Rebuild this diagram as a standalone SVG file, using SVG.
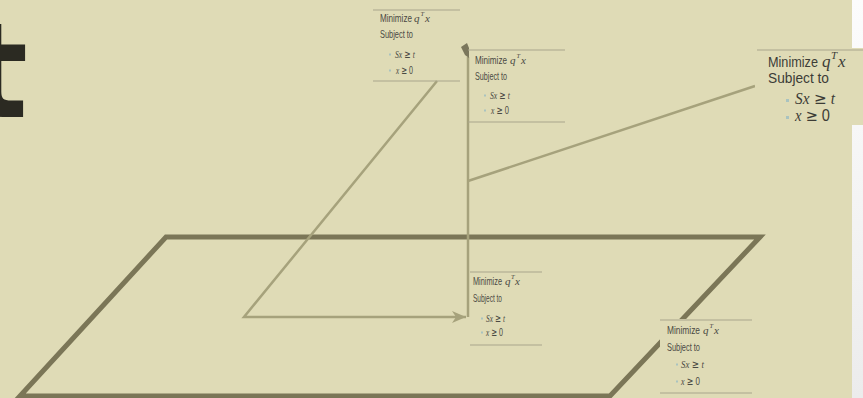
<svg xmlns="http://www.w3.org/2000/svg" width="863" height="398" viewBox="0 0 863 398">
<defs>
<linearGradient id="wp" x1="0" y1="0" x2="0" y2="1"><stop offset="0" stop-color="#fcfcfc"/><stop offset="1" stop-color="#ececec"/></linearGradient>
<marker id="ah" markerUnits="userSpaceOnUse" markerWidth="16" markerHeight="14" refX="14" refY="7" orient="auto"><path d="M0,1 L14,7 L0,13 L4,7 z" fill="#a6a27c"/></marker>
<style>
.s{font-family:"Liberation Sans","DejaVu Sans",sans-serif;fill:#4a4943}
.sb{font-family:"Liberation Sans","DejaVu Sans",sans-serif;fill:#3c3c36}
.i{font-family:"Liberation Serif","DejaVu Serif",serif;font-style:italic}
.u{font-family:"DejaVu Sans",sans-serif;font-style:normal}
.rule{stroke:#aaa68c;stroke-width:1.2}
.bg{fill:#dfdbb6}
.bul{fill:#a9c3c0}
.con{fill:none;stroke:#a6a27c;stroke-width:2.5}
</style>
</defs>
<rect width="863" height="398" fill="#dfdbb6"/>
<rect x="852" y="0" width="11" height="398" fill="url(#wp)"/>
<text x="-35" y="117" font-family="DejaVu Sans" font-size="132" font-weight="bold" fill="#2b2a22">t</text>
<polygon id="plane" points="166,237 760,237 610,396 20,396" fill="none" stroke="#7b7657" stroke-width="5"/>
<g id="connectors">
<path class="con" d="M468,57 L468,317"/>
<path class="con" d="M468,181 L755,86"/>
<path class="con" d="M437,81 L244,317 L466,317" marker-end="url(#ah)"/>
<polygon points="461,47 467,43 469,48 469,58 465,55" fill="#7b775c"/>
</g>
<g id="box1">
<line class="rule" x1="373" y1="10" x2="460" y2="10"/>
<line class="rule" x1="373" y1="81" x2="460" y2="81"/>
<text class="s" x="380" y="22" font-size="11" textLength="32" lengthAdjust="spacingAndGlyphs">Minimize</text>
<text class="s i" x="414" y="22" font-size="11">q</text>
<text class="s i" x="420.5" y="16" font-size="6.5">T</text>
<text class="s i" x="425" y="22" font-size="11">x</text>
<text class="s" x="380" y="38" font-size="11" textLength="33" lengthAdjust="spacingAndGlyphs">Subject to</text>
<rect class="bul" x="389" y="53.5" width="2" height="2"/>
<text class="s" x="395" y="58" font-size="11" textLength="20" lengthAdjust="spacingAndGlyphs"><tspan class="i">Sx</tspan> <tspan class="u">≥</tspan> <tspan class="i">t</tspan></text>
<rect class="bul" x="389" y="69.5" width="2" height="2"/>
<text class="s" x="396" y="74" font-size="11" textLength="17" lengthAdjust="spacingAndGlyphs"><tspan class="i">x</tspan> <tspan class="u">≥</tspan> 0</text>
</g>
<g id="box2">
<line class="rule" x1="468" y1="50" x2="565" y2="50"/>
<line class="rule" x1="468" y1="122" x2="565" y2="122"/>
<text class="s" x="475" y="64" font-size="11" textLength="32" lengthAdjust="spacingAndGlyphs">Minimize</text>
<text class="s i" x="510" y="64" font-size="11">q</text>
<text class="s i" x="516.5" y="58" font-size="6.5">T</text>
<text class="s i" x="521" y="64" font-size="11">x</text>
<text class="s" x="475" y="80" font-size="11" textLength="32" lengthAdjust="spacingAndGlyphs">Subject to</text>
<rect class="bul" x="484" y="94.5" width="2" height="2"/>
<text class="s" x="490" y="99" font-size="11" textLength="20" lengthAdjust="spacingAndGlyphs"><tspan class="i">Sx</tspan> <tspan class="u">≥</tspan> <tspan class="i">t</tspan></text>
<rect class="bul" x="484" y="109.5" width="2" height="2"/>
<text class="s" x="491" y="114" font-size="11" textLength="18" lengthAdjust="spacingAndGlyphs"><tspan class="i">x</tspan> <tspan class="u">≥</tspan> 0</text>
</g>
<g id="box3">
<rect class="bg" x="755" y="48" width="108" height="77"/>
<line class="rule" x1="757" y1="50" x2="863" y2="50"/>
<text class="sb" x="768" y="67" font-size="15" textLength="50" lengthAdjust="spacingAndGlyphs">Minimize</text>
<text class="sb i" x="822" y="67" font-size="17">q</text>
<text class="sb i" x="831" y="59" font-size="11">T</text>
<text class="sb i" x="838" y="67" font-size="17">x</text>
<text class="sb" x="768" y="83" font-size="15" textLength="61" lengthAdjust="spacingAndGlyphs">Subject to</text>
<rect class="bul" x="786" y="99" width="3" height="3"/>
<text class="sb" x="795" y="104" font-size="16" textLength="40" lengthAdjust="spacingAndGlyphs"><tspan class="i">Sx</tspan> <tspan class="u">≥</tspan> <tspan class="i">t</tspan></text>
<rect class="bul" x="786" y="116" width="3" height="3"/>
<text class="sb" x="795" y="121" font-size="16" textLength="35" lengthAdjust="spacingAndGlyphs"><tspan class="i">x</tspan> <tspan class="u">≥</tspan> 0</text>
</g>
<g id="box4">
<line class="rule" x1="470" y1="272" x2="542" y2="272"/>
<line class="rule" x1="470" y1="345" x2="542" y2="345"/>
<text class="s" x="473" y="285" font-size="11" textLength="29" lengthAdjust="spacingAndGlyphs">Minimize</text>
<text class="s i" x="505" y="285" font-size="11">q</text>
<text class="s i" x="511" y="279" font-size="6.5">T</text>
<text class="s i" x="515" y="285" font-size="11">x</text>
<text class="s" x="473" y="302" font-size="11" textLength="29" lengthAdjust="spacingAndGlyphs">Subject to</text>
<rect class="bul" x="481" y="317.5" width="2" height="2"/>
<text class="s" x="486" y="322" font-size="11" textLength="19" lengthAdjust="spacingAndGlyphs"><tspan class="i">Sx</tspan> <tspan class="u">≥</tspan> <tspan class="i">t</tspan></text>
<rect class="bul" x="481" y="331.5" width="2" height="2"/>
<text class="s" x="486" y="336" font-size="11" textLength="17" lengthAdjust="spacingAndGlyphs"><tspan class="i">x</tspan> <tspan class="u">≥</tspan> 0</text>
</g>
<g id="box5">
<rect class="bg" x="660" y="319" width="92" height="76"/>
<line class="rule" x1="660" y1="320" x2="752" y2="320"/>
<line class="rule" x1="660" y1="393" x2="752" y2="393"/>
<text class="s" x="667" y="334" font-size="11" textLength="33" lengthAdjust="spacingAndGlyphs">Minimize</text>
<text class="s i" x="703" y="334" font-size="11">q</text>
<text class="s i" x="709.5" y="328" font-size="6.5">T</text>
<text class="s i" x="714" y="334" font-size="11">x</text>
<text class="s" x="667" y="351" font-size="11" textLength="33" lengthAdjust="spacingAndGlyphs">Subject to</text>
<rect class="bul" x="676" y="363.5" width="2" height="2"/>
<text class="s" x="681" y="368" font-size="11" textLength="23" lengthAdjust="spacingAndGlyphs"><tspan class="i">Sx</tspan> <tspan class="u">≥</tspan> <tspan class="i">t</tspan></text>
<rect class="bul" x="676" y="380.5" width="2" height="2"/>
<text class="s" x="681" y="385" font-size="11" textLength="19" lengthAdjust="spacingAndGlyphs"><tspan class="i">x</tspan> <tspan class="u">≥</tspan> 0</text>
</g>
</svg>
